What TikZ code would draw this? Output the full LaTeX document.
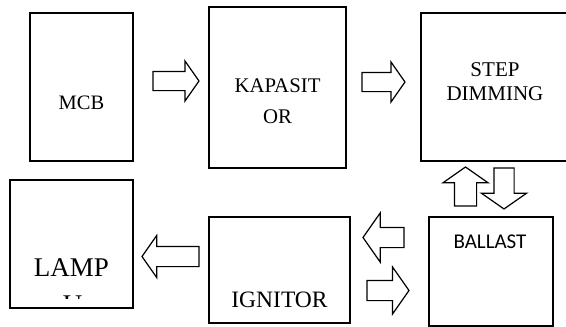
\documentclass[tikz,border=0pt]{standalone}
\usepackage{fontspec}
\setmainfont{Liberation Serif}
\newfontfamily\calibrifont{Carlito}
\usetikzlibrary{shapes.arrows}

\tikzset{
  blockbox/.style={draw=black, line width=1.5pt, inner sep=0pt, outer sep=0pt},
  blocktext/.style={inner sep=0pt, align=center, font=\fontsize{20.5}{24}\selectfont},
  blockarrow/.style={single arrow, draw=black, line width=1.2pt, inner xsep=0pt, inner ysep=9.5pt, outer sep=0pt,
    minimum width=0pt, single arrow head extend=10.5pt, single arrow tip angle=110, anchor=tail},
}

\begin{document}
\begin{tikzpicture}[x=1pt,y=-1pt]
\useasboundingbox (0,0) rectangle (566,327);
\clip (0,0) rectangle (566,327);
% blocks
\node[blockbox, minimum width=103pt, minimum height=148pt] (mcb) at (81.5,87) {};
\node[blockbox, minimum width=137pt, minimum height=161pt] (kapasitor) at (277.5,87.5) {};
\node[blockbox, minimum width=149pt, minimum height=148pt] (dimming) at (495.5,87) {};
\node[blockbox, minimum width=123pt, minimum height=128pt] (lamp) at (71.5,244) {};
\node[blockbox, minimum width=141pt, minimum height=106pt] (ignitor) at (279.5,270) {};
\node[blockbox, minimum width=124pt, minimum height=109pt] (ballast) at (491,271.5) {};
% texts
\node[blocktext] (mcbtext) at (81.5,103) {MCB};
\node[blocktext, font=\fontsize{20.8}{31}\selectfont] (kapasitortext) at (277.5,101.5) {KAPASIT\\OR};
\node[blocktext, font=\fontsize{21}{24}\selectfont] (dimmingtext) at (495,82) {STEP\\DIMMING};
\node[blocktext, font=\fontsize{27}{30}\selectfont] (lamptext) at (71.5,268) {LAMP};
\begin{scope}
\clip (10,180) rectangle (133,298);
\node[blocktext, font=\fontsize{27}{30}\selectfont] (lamputext) at (72.5,304.5) {U};
\end{scope}
\node[blocktext, font=\fontsize{23.5}{26}\selectfont] (ignitortext) at (279.5,300) {IGNITOR};
\node[blocktext, font=\calibrifont\fontsize{21}{24}\selectfont] (ballasttext) at (490,242) {BALLAST};
% arrows (placed by their tails)
\node[blockarrow, minimum height=46pt, inner ysep=9pt] (mcbtokap) at (153,81) {};
\node[blockarrow, minimum height=43pt, inner ysep=9pt] (kaptodim) at (362,82) {};
\node[blockarrow, rotate=90, minimum height=39pt, inner ysep=10.5pt, single arrow head extend=11.5pt] (baltodim) at (465.5,206) {};
\node[blockarrow, rotate=-90, minimum height=41pt, single arrow head extend=12.5pt] (dimtobal) at (504,168) {};
\node[blockarrow, rotate=180, minimum height=41pt, single arrow head extend=14.5pt] (baltoign) at (404,237.5) {};
\node[blockarrow, minimum height=42pt, single arrow head extend=13.5pt] (igntobal) at (367,290.5) {};
\node[blockarrow, rotate=180, minimum height=57pt, single arrow head extend=11pt] (igntolamp) at (199,256.5) {};
\end{tikzpicture}
\end{document}
